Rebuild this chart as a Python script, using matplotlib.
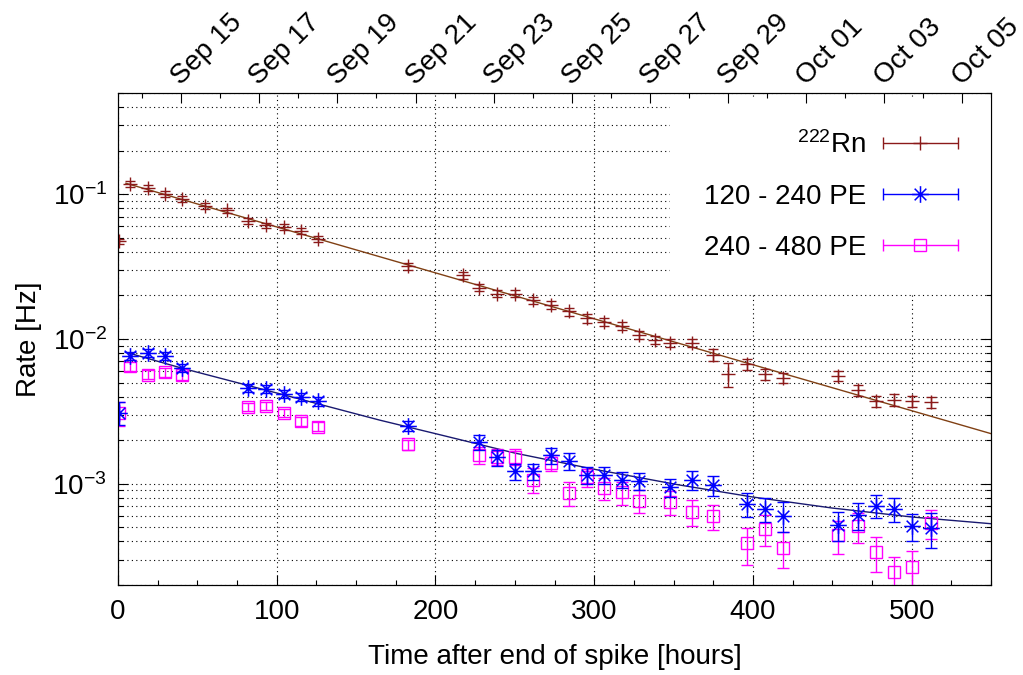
import numpy as np
import pandas as pd
import matplotlib
matplotlib.use("Agg")
import matplotlib.pyplot as plt
import matplotlib.dates as mdates
from matplotlib.path import Path
from matplotlib.container import ErrorbarContainer
from matplotlib.legend_handler import HandlerErrorbar
from matplotlib.ticker import MultipleLocator, LogLocator, NullFormatter, FixedLocator

plt.rcParams['font.family'] = ['Liberation Sans', 'DejaVu Sans']
plt.rcParams['mathtext.fontset'] = 'custom'
plt.rcParams['mathtext.rm'] = 'Liberation Sans'
plt.rcParams['mathtext.it'] = 'Liberation Sans:italic'
plt.rcParams['mathtext.default'] = 'regular'
plt.rcParams['axes.unicode_minus'] = False

# --- 222Rn rate [Hz] vs hours after end of spike ---
rn_t = [0.5, 7.4, 18.6, 29.5, 40.4, 55.0, 68.7, 82.0, 93.1, 104.5, 115.2, 126.0,
        182.8, 217.5, 227.5, 238.9, 250.0, 261.2, 272.7, 284.0, 295.2, 306.3, 317.3,
        328.4, 338.2, 347.5, 361.7, 375.0, 384.4, 396.4, 407.6, 419.1, 453.8, 466.0,
        477.5, 489.0, 500.4, 512.0]
rn_v = [0.0473, 0.1177, 0.110, 0.100, 0.0924, 0.083, 0.0772, 0.0656, 0.0609, 0.0593,
        0.056, 0.0491, 0.0318, 0.0275, 0.0226, 0.0206, 0.0206, 0.0185, 0.0171, 0.0155,
        0.0139, 0.01315, 0.0123, 0.0107, 0.00985, 0.00934, 0.00934, 0.0078, 0.00575,
        0.00667, 0.00569, 0.0054, 0.00554, 0.00441, 0.00373, 0.0038, 0.00371, 0.00367]
rn_err = [0.002, 0.0053, 0.005, 0.0045, 0.0042, 0.0037, 0.0035, 0.003, 0.0027, 0.0027,
          0.0025, 0.0022, 0.0017, 0.0015, 0.0012, 0.0011, 0.0011, 0.001, 0.0011, 0.001,
          0.0009, 0.00085, 0.0008, 0.0007, 0.00064, 0.0006, 0.0006, 0.0007, 0.0011,
          0.00058, 0.0005, 0.00045, 0.00045, 0.0004, 0.00034, 0.00034, 0.00033, 0.00033]

# --- 120 - 240 PE ---
lo_t = [0.5, 7.4, 18.6, 29.5, 40.4, 82.0, 93.1, 104.5, 115.2, 126.0, 182.8, 227.5,
        238.9, 250.0, 261.2, 272.7, 284.0, 295.2, 306.3, 317.3, 328.4, 347.5, 361.7,
        375.0, 396.4, 407.6, 419.1, 453.8, 466.0, 477.5, 489.0, 500.4, 512.0]
lo_v = [0.0031, 0.00768, 0.00802, 0.00768, 0.0063, 0.00461, 0.00454, 0.0042, 0.00398,
        0.00371, 0.0025, 0.00195, 0.00152, 0.00122, 0.00122, 0.00158, 0.00143, 0.00115,
        0.00115, 0.00107, 0.00104, 0.000944, 0.00107, 0.000976, 0.000726, 0.000673,
        0.000603, 0.000523, 0.000612, 0.000707, 0.000673, 0.000511, 0.000497]
lo_err = [0.00056, 0.0005, 0.00052, 0.0005, 0.00041, 0.0003, 0.0003, 0.00027, 0.00026,
          0.00024, 0.0002, 0.00023, 0.0002, 0.00016, 0.00016, 0.0002, 0.00019, 0.00015,
          0.00015, 0.00014, 0.00014, 0.00013, 0.00016, 0.00015, 0.00014, 0.00013,
          0.00014, 0.00012, 0.00013, 0.00013, 0.00013, 0.00011, 0.000135]

# --- 240 - 480 PE ---
hi_t = lo_t
hi_v = [0.0031, 0.00646, 0.00566, 0.0059, 0.0056, 0.0034, 0.00345, 0.00309, 0.0027,
        0.00248, 0.00187, 0.00158, 0.00154, 0.00154, 0.00107, 0.0014, 0.000863, 0.00111,
        0.000934, 0.000873, 0.000764, 0.000748, 0.00064, 0.000598, 0.000387, 0.000489,
        0.000362, 0.00044, 0.00051, 0.000338, 0.000244, 0.000268, 0.000537]
hi_err = [0.0006, 0.00045, 0.0004, 0.0004, 0.0004, 0.00024, 0.00024, 0.00022, 0.0002,
          0.00018, 0.00015, 0.00021, 0.0002, 0.0002, 0.00021, 0.00017, 0.00016, 0.00016,
          0.00016, 0.00016, 0.00014, 0.00014, 0.00013, 0.00012, 0.00011, 0.00012,
          0.0001, 0.00011, 0.00012, 0.000093, 0.00007, 0.000075, 0.00012]

# fitted curves
rn_fit_t = [5, 550]
rn_fit_v = [0.119, 0.00222]
lo_fit_t = [5, 40, 105, 165, 200, 250, 300, 354, 400, 450, 500, 550]
lo_fit_v = [0.0081, 0.0063, 0.0041, 0.00275, 0.00222, 0.00163, 0.00126, 0.00098,
            0.00081, 0.00068, 0.00059, 0.00053]

labels = ['$^{222}$Rn', '120 - 240 PE', '240 - 480 PE']

# top date axis
top_start = '2016-09-13 09:14'
top_end = '2016-10-05 17:31'
top_major = pd.date_range('2016-09-15', '2016-10-05', freq='2D')

RN_C = '#8b1a1a'
RN_FIT_C = '#804014'
LO_C = '#0000ff'
LO_FIT_C = '#191970'
HI_C = '#ff00ff'
FS = 20

asterisk = Path([(-1, 0), (1, 0), (0, -1), (0, 1), (-0.7, -0.7), (0.7, 0.7), (-0.7, 0.7), (0.7, -0.7)],
                [Path.MOVETO, Path.LINETO] * 4)

fig = plt.figure(figsize=(10.23, 6.75), dpi=100)
ax = fig.add_axes([118 / 1023, 1 - 585 / 675, (991 - 118) / 1023, (585 - 93) / 675])

ax.plot(rn_fit_t, rn_fit_v, color=RN_FIT_C, lw=1.0, zorder=2)
ax.plot(lo_fit_t, lo_fit_v, color=LO_FIT_C, lw=1.0, zorder=2)

ax.errorbar(rn_t, rn_v, yerr=rn_err, fmt='+', color=RN_C, ms=10, mew=1.0,
            elinewidth=1.0, capsize=3.5, capthick=1.0, zorder=3)
ax.errorbar(hi_t, hi_v, yerr=hi_err, fmt='s', color=HI_C, mfc='none', mec=HI_C, ms=8,
            mew=1.0, elinewidth=1.0, capsize=4, capthick=1.0, zorder=3)
ax.errorbar(lo_t, lo_v, yerr=lo_err, fmt='none', ecolor=LO_C, elinewidth=1.0,
            capsize=4.5, capthick=1.0, zorder=4)
ax.plot(lo_t, lo_v, ls='none', marker=asterisk, ms=12, mfc='none', mec=LO_C, mew=1.1, zorder=4)

ax.set_xlim(0, 550)
ax.set_ylim(2e-4, 0.5)
ax.set_yscale('log')

ax.xaxis.set_major_locator(MultipleLocator(100))
ax.xaxis.set_minor_locator(MultipleLocator(25))
ax.yaxis.set_major_locator(LogLocator(base=10, numticks=10))
ax.yaxis.set_minor_locator(LogLocator(base=10, subs=np.arange(2, 10), numticks=20))
ax.yaxis.set_minor_formatter(NullFormatter())

dots = (0, (1, 3))
ax.grid(which='major', axis='x', ls=dots, color='black', lw=0.8)
ax.grid(which='both', axis='y', ls=dots, color='black', lw=0.8)

ax.tick_params(which='both', direction='in', top=False, right=True, labelsize=FS, width=0.8)
ax.tick_params(which='major', length=7)
ax.tick_params(which='minor', length=3.5)
ax.tick_params(axis='x', which='major', pad=10)
ax.tick_params(axis='y', which='major', pad=8)
for s in ax.spines.values():
    s.set_linewidth(0.8)

ax.set_xlabel('Time after end of spike [hours]', fontsize=FS)
ax.set_ylabel('Rate [Hz]', fontsize=FS)
ax.xaxis.set_label_coords(0.5, -0.12)
ax.yaxis.set_label_coords(-0.087, 0.5)

# top axis with calendar dates
ax2 = ax.twiny()
ax2.set_xlim(pd.Timestamp(top_start).to_pydatetime(), pd.Timestamp(top_end).to_pydatetime())
ax2.xaxis.set_major_locator(FixedLocator(mdates.date2num(top_major.to_pydatetime())))
ax2.xaxis.set_minor_locator(mdates.DayLocator())
ax2.xaxis.set_major_formatter(mdates.DateFormatter('%b %d'))
ax2.tick_params(which='both', direction='in', labelsize=FS, width=0.8, labelrotation=45)
ax2.tick_params(which='major', length=7, pad=5)
ax2.tick_params(which='minor', length=3.5)
plt.setp(ax2.get_xticklabels(), ha='left', va='baseline', rotation_mode='anchor')

# legend proxies: horizontal bar with caps, gnuplot style
proxies = []
proxies.append(ax.errorbar([np.nan], [np.nan], xerr=[1], fmt='+', color=RN_C, ms=10, mew=1.0,
                           elinewidth=1.0, capsize=4, capthick=1.0))
star_proxy = ax.errorbar([np.nan], [np.nan], xerr=[1], fmt='none', ecolor=LO_C,
                         elinewidth=1.0, capsize=4.5, capthick=1.0)
lo_marker, = ax.plot([np.nan], [np.nan], ls='none', marker=asterisk, ms=12, mfc='none',
                     mec=LO_C, mew=1.1)
proxies.append(ErrorbarContainer((lo_marker, star_proxy[1], star_proxy[2]),
                                 has_xerr=True, has_yerr=False))
proxies.append(ax.errorbar([np.nan], [np.nan], xerr=[1], fmt='s', color=HI_C, mfc='none',
                           mec=HI_C, ms=8, mew=1.0, elinewidth=1.0, capsize=4.5, capthick=1.0))

leg = ax.legend(handles=proxies, labels=labels,
                loc='upper right', bbox_to_anchor=(1.0, 0.99), borderaxespad=0,
                markerfirst=False, fontsize=FS, handlelength=2.7, handletextpad=0.6,
                labelspacing=0.9, borderpad=1.2, numpoints=1, fancybox=False,
                framealpha=1.0,
                handler_map={ErrorbarContainer: HandlerErrorbar(xerr_size=1.35)})
leg.get_frame().set_edgecolor('none')
leg.get_frame().set_facecolor('white')

fig.savefig('out.png', dpi=100)
